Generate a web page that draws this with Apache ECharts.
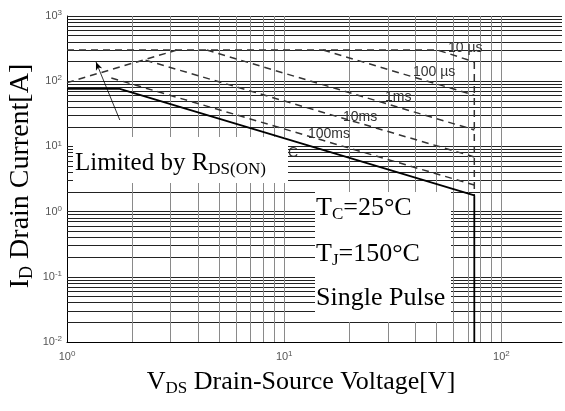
<!DOCTYPE html>
<html>
<head>
<meta charset="utf-8">
<script src="https://cdn.jsdelivr.net/npm/echarts@6/dist/echarts.min.js"></script>
<style>
  html, body { margin: 0; padding: 0; background: #fff; }
  #soa { width: 565px; height: 411px; }
</style>
</head>
<body>
<div id="soa"></div>
<script>
// 安全工作区 SOA 数据 [V, A]
const line10us = [[1, 300], [51, 300], [75, 197]];
const line100us = [[15.1, 300], [75, 61]];
const line1ms = [[4.4, 300], [75, 17.9]];
const line10ms = [[2.3, 210], [75, 6.9]];
const line100ms = [[1.6, 112], [75, 2.56]];
const lineDC = [[1, 76], [1.75, 76], [75, 1.77], [75, 0.01]];
const lineRds = [[1, 95], [3.2, 300]];
const lineBV = [[75, 197], [75, 1.77]];
// 箭头 (指向 RDS(on) 线)
const arrowFrom = [1.75, 25.4];
const arrowTo = [1.36, 197];

// 网格线的十进制
const yDecades = [0.01, 0.1, 1, 10, 100];
const xDecades = [1, 10];
const minorSteps = [1, 2, 3, 4, 5, 6, 7, 8, 9];

const hGrid = [];
yDecades.forEach(d => minorSteps.forEach(k => { if (k * d > 0.01) hGrid.push(k * d); }));
hGrid.push(1000);
const vGrid = [];
xDecades.forEach(d => minorSteps.forEach(k => { if (k * d > 1) vGrid.push(k * d); }));
vGrid.push(100);

const serif = '"Liberation Serif", "Times New Roman", serif';
const sans = '"Liberation Sans", Arial, sans-serif';

function powLabel(value) {
  const e = Math.log10(value);
  const r = Math.round(e);
  if (Math.abs(e - r) > 1e-6) return '';
  return '{b|10}{s|' + r + '}';
}
const tickRich = {
  b: { fontSize: 11, color: '#555', fontFamily: sans, lineHeight: 14 },
  s: { fontSize: 8, color: '#555', fontFamily: sans, lineHeight: 8, verticalAlign: 'top' }
};

function dashSeries(data) {
  return {
    type: 'line', data: data, symbol: 'none', z: 20, silent: true,
    lineStyle: { color: '#333', width: 1.5, type: [7, 5] }
  };
}

const myChart = echarts.init(document.getElementById('soa'));

const option = {
  animation: false,
  grid: { left: 67, right: 0, top: 16, bottom: 69 },
  xAxis: {
    type: 'log', logBase: 10, min: 1, max: 190,
    axisLine: { show: true, lineStyle: { color: '#000', width: 1 } },
    axisTick: { show: false },
    splitLine: { show: false },
    axisLabel: { margin: 8, formatter: powLabel, rich: tickRich }
  },
  yAxis: {
    type: 'log', logBase: 10, min: 0.01, max: 1000, splitNumber: 5,
    axisLine: { show: true, lineStyle: { color: '#000', width: 1 } },
    axisTick: { show: false },
    splitLine: { show: false },
    axisLabel: { margin: 5, formatter: powLabel, rich: tickRich }
  },
  series: [
    {
      // 横向网格
      type: 'line', data: [], z: 1, silent: true,
      markLine: {
        silent: true, symbol: 'none', label: { show: false },
        lineStyle: { color: '#222', width: 1, type: 'solid' },
        data: hGrid.map(v => ({ yAxis: v }))
      }
    },
    {
      // 纵向网格
      type: 'line', data: [], z: 1, silent: true,
      markLine: {
        silent: true, symbol: 'none', label: { show: false },
        lineStyle: { color: '#8a8a8a', width: 1, type: 'solid' },
        data: vGrid.map(v => ({ xAxis: v }))
      }
    },
    dashSeries(line10us),
    dashSeries(line100us),
    dashSeries(line1ms),
    dashSeries(line10ms),
    dashSeries(line100ms),
    dashSeries(lineRds),
    dashSeries(lineBV),
    {
      type: 'line', data: lineDC, symbol: 'none', z: 20, silent: true,
      lineStyle: { color: '#000', width: 1.8 },
      markLine: {
        silent: true, symbol: ['none', 'arrow'], symbolSize: [5, 8],
        label: { show: false },
        lineStyle: { color: '#000', width: 0.8, type: 'solid' },
        data: [[{ coord: arrowFrom }, { coord: arrowTo }]]
      }
    }
  ],
  graphic: [
    // 曲线标注
    { type: 'text', z: 30, style: { x: 448, y: 41, text: '10 µs', fontSize: 14, fontFamily: sans, fill: '#333' } },
    { type: 'text', z: 30, style: { x: 413, y: 65, text: '100 µs', fontSize: 14, fontFamily: sans, fill: '#333' } },
    { type: 'text', z: 30, style: { x: 385, y: 90, text: '1ms', fontSize: 14, fontFamily: sans, fill: '#333' } },
    { type: 'text', z: 30, style: { x: 343, y: 110, text: '10ms', fontSize: 14, fontFamily: sans, fill: '#333' } },
    { type: 'text', z: 30, style: { x: 308, y: 127, text: '100ms', fontSize: 14, fontFamily: sans, fill: '#333' } },
    { type: 'text', z: 5, style: { x: 278, y: 146, text: 'DC', fontSize: 14, fontFamily: sans, fill: '#333' } },
    // 白底文字框
    { type: 'rect', z: 10, shape: { x: 73, y: 137, width: 215, height: 46 }, style: { fill: '#fff' } },
    { type: 'rect', z: 10, shape: { x: 315, y: 192, width: 136, height: 130 }, style: { fill: '#fff' } },
    {
      type: 'text', z: 11,
      style: {
        x: 75, y: 148, text: '{m|Limited by R}{d|DS(ON)}',
        rich: {
          m: { fontSize: 25, fontFamily: serif, fill: '#000', lineHeight: 30 },
          d: { fontSize: 17, fontFamily: serif, fill: '#000', lineHeight: 14, verticalAlign: 'bottom' }
        }
      }
    },
    {
      type: 'text', z: 11,
      style: {
        x: 316, y: 193, text: '{m|T}{d|C}{m|=25°C}',
        rich: {
          m: { fontSize: 26, fontFamily: serif, fill: '#000', lineHeight: 30 },
          d: { fontSize: 17, fontFamily: serif, fill: '#000', lineHeight: 14, verticalAlign: 'bottom' }
        }
      }
    },
    {
      type: 'text', z: 11,
      style: {
        x: 316, y: 239, text: '{m|T}{d|J}{m|=150°C}',
        rich: {
          m: { fontSize: 26, fontFamily: serif, fill: '#000', lineHeight: 30 },
          d: { fontSize: 17, fontFamily: serif, fill: '#000', lineHeight: 14, verticalAlign: 'bottom' }
        }
      }
    },
    {
      type: 'text', z: 11,
      style: { x: 316, y: 283, text: 'Single Pulse', fontSize: 26, fontFamily: serif, fill: '#000', lineHeight: 30 }
    },
    // 坐标轴标题
    {
      type: 'text', z: 11, x: 301, y: 382,
      style: {
        text: '{m|V}{d|DS}{m| Drain-Source Voltage[V]}', align: 'center', verticalAlign: 'middle',
        rich: {
          m: { fontSize: 26, fontFamily: serif, fill: '#000', lineHeight: 30 },
          d: { fontSize: 17, fontFamily: serif, fill: '#000', lineHeight: 14, verticalAlign: 'bottom' }
        }
      }
    },
    {
      type: 'text', z: 11, x: 21, y: 176, rotation: Math.PI / 2,
      style: {
        text: '{m|I}{d|D}{m| Drain Current[A]}', align: 'center', verticalAlign: 'middle',
        rich: {
          m: { fontSize: 28, fontFamily: serif, fill: '#000', lineHeight: 30 },
          d: { fontSize: 18, fontFamily: serif, fill: '#000', lineHeight: 14, verticalAlign: 'bottom' }
        }
      }
    }
  ]
};

myChart.setOption(option);
</script>
</body>
</html>
